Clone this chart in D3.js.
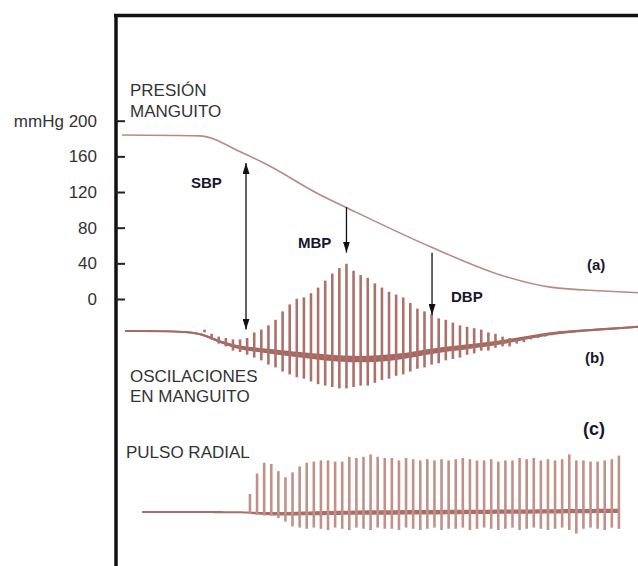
<!DOCTYPE html>
<html>
<head>
<meta charset="utf-8">
<script src="https://cdn.jsdelivr.net/npm/d3@7"></script>
<style>
body { margin: 0; background: #fff; }
svg { display: block; font-family: "Liberation Sans", Arial, Helvetica, sans-serif; }
</style>
</head>
<body>
<div id="chart"></div>
<script>
var width = 638
var height = 566

// (a) cuff pressure, mmHg against time in s
var cuffTime = [0, 9, 14, 17, 23, 26, 36, 44, 50, 56, 60]
var cuffPressure = [184, 183, 164, 150, 117, 103, 58, 27, 13, 9, 7]
var pressureTicks = [0, 40, 80, 120, 160, 200]

// heart beats
var beatPeriod = 0.825
var oscFirstBeat = 9.6
var pulseFirstBeat = 14.88

// (b) cuff oscillations, one peak and trough per beat
var oscTop = [0.1, -0.2, -0.4, -0.5, -0.6, -0.6, -0.5, -0.1, 0.1, 0.4,
  0.8, 1.4, 1.9, 2.3, 2.4, 2.7, 3.1, 3.6, 4.1, 4.5,
  4.8, 4.3, 4.0, 3.8, 3.4, 3.1, 2.8, 2.6, 2.4, 2.0,
  1.6, 1.4, 1.2, 0.9, 0.8, 0.6, 0.4, 0.3, 0.2, 0.1,
  -0.1, -0.2, -0.4, -0.5, -0.6, -0.5, -0.4, -0.3, -0.2, -0.1, 0.0]
var oscBottom = [-0.1, -0.6, -0.9, -1.1, -1.4, -1.5, -1.7, -1.9, -2.1, -2.4,
  -2.6, -2.9, -3.1, -3.3, -3.4, -3.6, -3.8, -3.9, -4.0, -4.1,
  -4.1, -4.0, -3.9, -3.9, -3.7, -3.5, -3.4, -3.2, -3.1, -2.9,
  -2.7, -2.6, -2.4, -2.3, -2.1, -2.0, -1.9, -1.7, -1.6, -1.4,
  -1.4, -1.2, -1.1, -1.1, -0.9, -0.8, -0.6, -0.5, -0.4, -0.3, -0.1]
var oscBaseTime = [0.35, 8.7, 10.2, 12.9, 14.9, 20.7, 26.5, 32.3, 35.8, 44, 49.8, 55.6, 60]
var oscBase = [0, 0, -0.5, -1.1, -1.3, -1.7, -2.1, -1.9, -1.4, -0.9, -0.1, 0.1, 0.3]
var oscBand = [0.06, 0.06, 0.09, 0.12, 0.15, 0.2, 0.24, 0.22, 0.19, 0.15, 0.11, 0.08, 0.07]

// (c) radial pulse
var pulseTop = [15, 32, 41, 40, 34, 29, 33, 38, 41, 42,
  43, 43, 42, 42, 46, 45, 46, 48, 46, 45,
  45, 43, 45, 44, 43, 44, 43, 44, 43, 44,
  45, 44, 43, 43, 44, 42, 43, 43, 45, 44,
  45, 43, 44, 43, 44, 48, 43, 43, 42, 42,
  43, 44, 47]
var pulseBottom = [-1, -2, -3, -3, -5, -8, -12, -13, -14, -13,
  -14, -15, -13, -14, -15, -13, -14, -15, -13, -14,
  -14, -15, -13, -14, -15, -14, -13, -15, -14, -14,
  -13, -15, -14, -13, -14, -15, -14, -13, -15, -14,
  -13, -14, -15, -14, -13, -15, -18, -14, -13, -14,
  -15, -13, -14]
var pulseBaseTime = [2.33, 14.7, 16, 20, 26, 40, 50, 57.9]
var pulseBase = [0, 0, -1.5, -1.5, -0.5, 0, 0.5, 1]
var pulseBand = [0.8, 0.8, 1.2, 1.6, 1.8, 1.8, 1.8, 1.8]

// SBP / MBP / DBP markers: time, start on cuff curve (mmHg), end on oscillation trace
var markerNames = ["SBP", "MBP", "DBP"]
var markerTime = [14.42, 26.1, 36.05]
var markerFrom = [152.5, 103, 52]
var markerTo = [0.1, 5.6, 1.15]

var svg = d3.select("#chart")
  .append("svg")
    .attr("width", width)
    .attr("height", height)

var x = d3.scaleLinear().domain([0, 60]).range([122, 638])
var y = d3.scaleLinear().domain([0, 200]).range([299, 120.7])
var yOsc = d3.scaleLinear().domain([-5, 5]).range([401, 261])
var yPulse = d3.scaleLinear().domain([-30, 60]).range([548, 440])

var defs = svg.append("defs")
defs.append("marker")
    .attr("id", "head")
    .attr("markerUnits", "userSpaceOnUse")
    .attr("viewBox", "0 0 11 7")
    .attr("refX", 11)
    .attr("refY", 3.5)
    .attr("markerWidth", 11)
    .attr("markerHeight", 7)
    .attr("orient", "auto-start-reverse")
  .append("path")
    .attr("d", "M0,0 L11,3.5 L0,7 Z")
    .attr("fill", "#111")

// frame
svg.append("line").attr("x1", 116).attr("x2", 116).attr("y1", 14).attr("y2", height)
  .attr("stroke", "#111").attr("stroke-width", 3.5)
svg.append("line").attr("x1", 114).attr("x2", width).attr("y1", 15.5).attr("y2", 15.5)
  .attr("stroke", "#111").attr("stroke-width", 3.5)

// pressure axis
var axis = svg.append("g")
  .attr("transform", "translate(116,0)")
  .call(d3.axisLeft(y).tickValues(pressureTicks).tickSize(-9).tickPadding(19)
    .tickFormat(function(d){ return d === 200 ? "mmHg 200" : d }))
axis.select(".domain").remove()
axis.selectAll(".tick line").attr("stroke", "#222").attr("stroke-width", 2)
axis.selectAll(".tick text")
  .attr("font-size", 17)
  .attr("font-family", "Liberation Sans, Arial, sans-serif")
  .attr("fill", "#333")

// (a) cuff pressure
var cuffData = cuffTime.map(function(t, i){ return {t: t, v: cuffPressure[i]} })
svg.append("path")
  .datum(cuffData)
  .attr("d", d3.line().x(function(d){ return x(d.t) }).y(function(d){ return y(d.v) }).curve(d3.curveMonotoneX))
  .attr("fill", "none")
  .attr("stroke", "#b98a80")
  .attr("stroke-width", 1.6)

// (b) oscillations
var oscBaseData = oscBaseTime.map(function(t, i){ return {t: t, v: oscBase[i], w: oscBand[i]} })
svg.append("path")
  .datum(oscBaseData)
  .attr("d", d3.area().x(function(d){ return x(d.t) })
    .y0(function(d){ return yOsc(d.v - d.w) })
    .y1(function(d){ return yOsc(d.v + d.w) })
    .curve(d3.curveBasis))
  .attr("fill", "#a3675f")
svg.append("path")
  .datum(oscBaseData)
  .attr("d", d3.line().x(function(d){ return x(d.t) }).y(function(d){ return yOsc(d.v) }).curve(d3.curveBasis))
  .attr("fill", "none")
  .attr("stroke", "#a56a64")
  .attr("stroke-width", 2)

var oscBeats = oscTop.map(function(top, i){
  return {t: oscFirstBeat + i * beatPeriod, top: top, bottom: oscBottom[i]}
})
svg.append("g").selectAll("line")
  .data(oscBeats)
  .enter()
  .append("line")
    .attr("x1", function(d){ return x(d.t) })
    .attr("x2", function(d){ return x(d.t) })
    .attr("y1", function(d){ return yOsc(d.bottom) })
    .attr("y2", function(d){ return yOsc(d.top) })
    .attr("stroke", "#ac716b")
    .attr("stroke-width", 2.6)

// (c) radial pulse
var pulseBaseData = pulseBaseTime.map(function(t, i){ return {t: t, v: pulseBase[i], w: pulseBand[i]} })
svg.append("path")
  .datum(pulseBaseData)
  .attr("d", d3.area().x(function(d){ return x(d.t) })
    .y0(function(d){ return yPulse(d.v - d.w) })
    .y1(function(d){ return yPulse(d.v + d.w) })
    .curve(d3.curveBasis))
  .attr("fill", "#a96e68")

var pulseBeats = pulseTop.map(function(top, i){
  return {t: pulseFirstBeat + i * beatPeriod, top: top, bottom: pulseBottom[i]}
})
svg.append("g").selectAll("line")
  .data(pulseBeats)
  .enter()
  .append("line")
    .attr("x1", function(d){ return x(d.t) })
    .attr("x2", function(d){ return x(d.t) })
    .attr("y1", function(d){ return yPulse(d.bottom) })
    .attr("y2", function(d){ return yPulse(d.top) })
    .attr("stroke", "#c09089")
    .attr("stroke-width", 2.6)

// arrows
markerNames.forEach(function(name, i){
  var line = svg.append("line")
    .attr("x1", x(markerTime[i]))
    .attr("x2", x(markerTime[i]))
    .attr("y1", y(markerFrom[i]))
    .attr("y2", yOsc(markerTo[i]))
    .attr("stroke", "#111")
    .attr("stroke-width", 1.3)
    .attr("marker-end", "url(#head)")
  if (name === "SBP") line.attr("marker-start", "url(#head)")
})

// labels
var bold = [
  {text: "SBP", x: 191, y: 188, size: 15},
  {text: "MBP", x: 298, y: 248, size: 15},
  {text: "DBP", x: 451, y: 302, size: 15},
  {text: "(a)", x: 587, y: 270, size: 15},
  {text: "(b)", x: 585, y: 363, size: 15},
  {text: "(c)", x: 583, y: 435, size: 18}
]
svg.append("g").selectAll("text")
  .data(bold)
  .enter()
  .append("text")
    .attr("x", function(d){ return d.x })
    .attr("y", function(d){ return d.y })
    .attr("font-size", function(d){ return d.size })
    .attr("font-weight", "bold")
    .attr("fill", "#17172c")
    .text(function(d){ return d.text })

var plain = [
  {text: "PRESIÓN", x: 130, y: 96},
  {text: "MANGUITO", x: 130, y: 117},
  {text: "OSCILACIONES", x: 130, y: 382},
  {text: "EN MANGUITO", x: 130, y: 402},
  {text: "PULSO RADIAL", x: 126, y: 458}
]
svg.append("g").selectAll("text")
  .data(plain)
  .enter()
  .append("text")
    .attr("x", function(d){ return d.x })
    .attr("y", function(d){ return d.y })
    .attr("font-size", 17)
    .attr("fill", "#333")
    .text(function(d){ return d.text })
</script>
</body>
</html>
